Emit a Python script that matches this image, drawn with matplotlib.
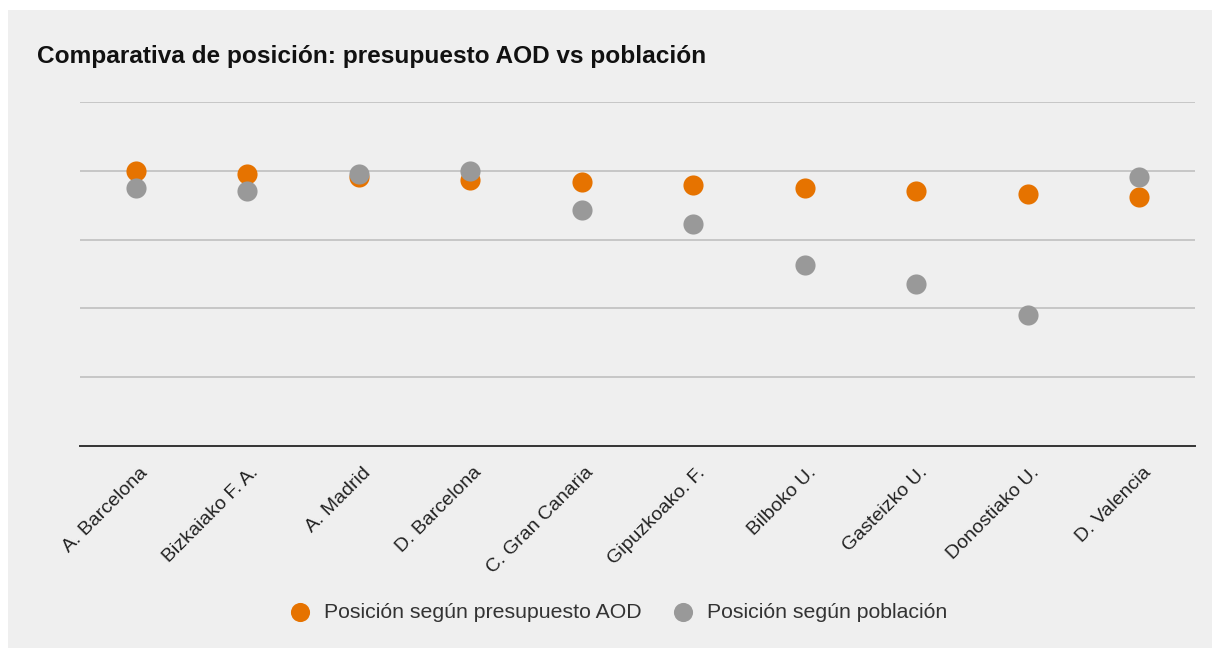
import matplotlib.pyplot as plt
from matplotlib.patches import Rectangle
import matplotlib.transforms as mtransforms

plt.rcParams['font.family'] = ['Liberation Sans', 'DejaVu Sans']

# Datos (posición relativa)
entidades = ['A. Barcelona', 'Bizkaiako F. A.', 'A. Madrid', 'D. Barcelona', 'C. Gran Canaria',
             'Gipuzkoako. F.', 'Bilboko U.', 'Gasteizko U.', 'Donostiako U.', 'D. Valencia']
pos_presupuesto = [4.00, 3.95, 3.91, 3.87, 3.83, 3.79, 3.75, 3.71, 3.67, 3.62]
pos_poblacion = [3.75, 3.71, 3.96, 4.00, 3.43, 3.23, 2.63, 2.35, 1.91, 3.91]

naranja = '#e67300'
gris = '#999999'
fondo = '#efefef'

fig = plt.figure(figsize=(12.13, 6.5), dpi=100)
fig.patch.set_facecolor('white')
W, H = 1213, 650
fig.patches.append(Rectangle((8 / W, 2 / H), 1204 / W, 638 / H, transform=fig.transFigure,
                             facecolor=fondo, edgecolor='none', zorder=-10))

ax = fig.add_axes([80 / W, 1 - 446 / H, 1115 / W, 344 / H])
ax.set_facecolor(fondo)
x = list(range(len(entidades)))
ax.scatter(x, pos_presupuesto, s=210, color=naranja, zorder=3, linewidths=0,
           label='Posición según presupuesto AOD')
ax.scatter(x, pos_poblacion, s=210, color=gris, zorder=4, linewidths=0,
           label='Posición según población')

ax.set_xlim(-0.5, len(entidades) - 0.5)
ax.set_ylim(0, 5)
ax.set_yticks([1, 2, 3, 4, 5])
ax.yaxis.grid(True, color='#c6c6c6', linewidth=1.4)
ax.set_axisbelow(True)
ax.tick_params(axis='y', left=False, labelleft=False)
ax.tick_params(axis='x', length=0, pad=13)
for s in ['top', 'right', 'left']:
    ax.spines[s].set_visible(False)
ax.spines['bottom'].set_color('#333333')
ax.spines['bottom'].set_linewidth(1.4)

ax.set_xticks(x)
ax.set_xticklabels(entidades, rotation=45, ha='right', rotation_mode='anchor',
                   fontsize=14, color='#222222')
offset = mtransforms.ScaledTranslation(3 / 100, 0, fig.dpi_scale_trans)
for lbl in ax.get_xticklabels():
    lbl.set_transform(lbl.get_transform() + offset)

fig.text(37 / W, 1 - 56 / H, 'Comparativa de posición: presupuesto AOD vs población',
         fontsize=17.6, fontweight='bold', va='center', ha='left', color='#111111')

fig.legend(loc='center', bbox_to_anchor=(613 / W, 1 - 612 / H), ncol=2, frameon=False,
           fontsize=15.3, handletextpad=0.15, columnspacing=0.9, markerscale=0.95,
           labelcolor='#333333')

fig.savefig('out.png', dpi=100, facecolor=fig.get_facecolor())
